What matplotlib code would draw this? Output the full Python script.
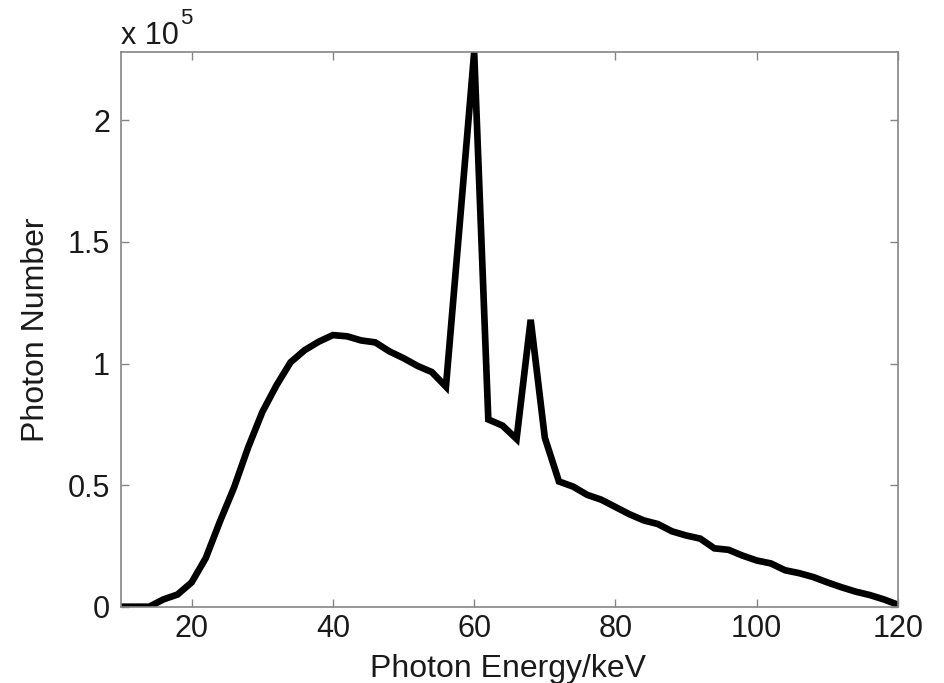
import matplotlib
matplotlib.use("Agg")
import matplotlib.pyplot as plt
from matplotlib.ticker import FuncFormatter

# Data (photon number in units of 1e5)
energy_kev = [10, 12, 14, 16, 18, 20, 22, 24, 26, 28, 30, 32, 34, 36, 38, 40,
              42, 44, 46, 48, 50, 52, 54, 56, 58, 60, 62, 64, 66, 68, 70, 72,
              74, 76, 78, 80, 82, 84, 86, 88, 90, 92, 94, 96, 98, 100, 102,
              104, 106, 108, 110, 112, 114, 116, 118, 120]
photon_e5 = [0.0, 0.0, 0.0, 0.03, 0.05, 0.10, 0.20, 0.35, 0.49, 0.655, 0.80,
             0.91, 1.005, 1.055, 1.09, 1.117, 1.112, 1.095, 1.087, 1.05,
             1.022, 0.99, 0.965, 0.905, 1.59, 2.28, 0.77, 0.745, 0.69, 1.18,
             0.695, 0.515, 0.494, 0.46, 0.44, 0.41, 0.38, 0.355, 0.34, 0.31,
             0.293, 0.28, 0.24, 0.234, 0.21, 0.19, 0.178, 0.15, 0.138, 0.122,
             0.10, 0.08, 0.062, 0.048, 0.03, 0.008]
x_ticks = [20, 40, 60, 80, 100, 120]
y_ticks = [0, 0.5, 1, 1.5, 2]

plt.rcParams['font.family'] = ['Liberation Sans', 'DejaVu Sans']

W, H = 945, 683
fig = plt.figure(figsize=(W / 100, H / 100), dpi=100)
ax = fig.add_axes([121 / W, 1 - 606.7 / H, (898 - 121) / W, (606.7 - 52.3) / H])

ax.plot(energy_kev, photon_e5, color='black', linewidth=4.8,
        solid_joinstyle='miter', clip_on=True)

ax.set_xlim(10, 120)
ax.set_ylim(0, max(photon_e5))
ax.set_xticks(x_ticks)
ax.set_yticks(y_ticks)
ax.yaxis.set_major_formatter(FuncFormatter(lambda v, p: f"{v:g}"))

gray = '#858585'
txt = '#1a1a1a'
for s in ax.spines.values():
    s.set_color(gray)
    s.set_linewidth(1.2)
ax.tick_params(direction='in', length=5.5, width=1, colors=gray,
               labelcolor=txt, labelsize=22, top=True, right=True)
ax.tick_params(axis='x', pad=5)
ax.tick_params(axis='y', pad=8)

fig.text(508 / W, 1 - 677 / H, 'Photon Energy/keV', fontsize=23, color=txt,
         ha='center', va='baseline')
fig.text(44 / W, 1 - 330 / H, 'Photon Number', fontsize=23, color=txt,
         rotation=90, rotation_mode='anchor', ha='center', va='baseline')

t1 = fig.text(121 / W, 1 - 43.5 / H, 'x 10', fontsize=22, color=txt,
              ha='left', va='baseline')
ax.annotate('5', xy=(1, 1), xycoords=t1, xytext=(1, -6),
            textcoords='offset points', fontsize=16, color=txt,
            ha='left', va='bottom')

fig.savefig('out.png', dpi=100, facecolor='white')
